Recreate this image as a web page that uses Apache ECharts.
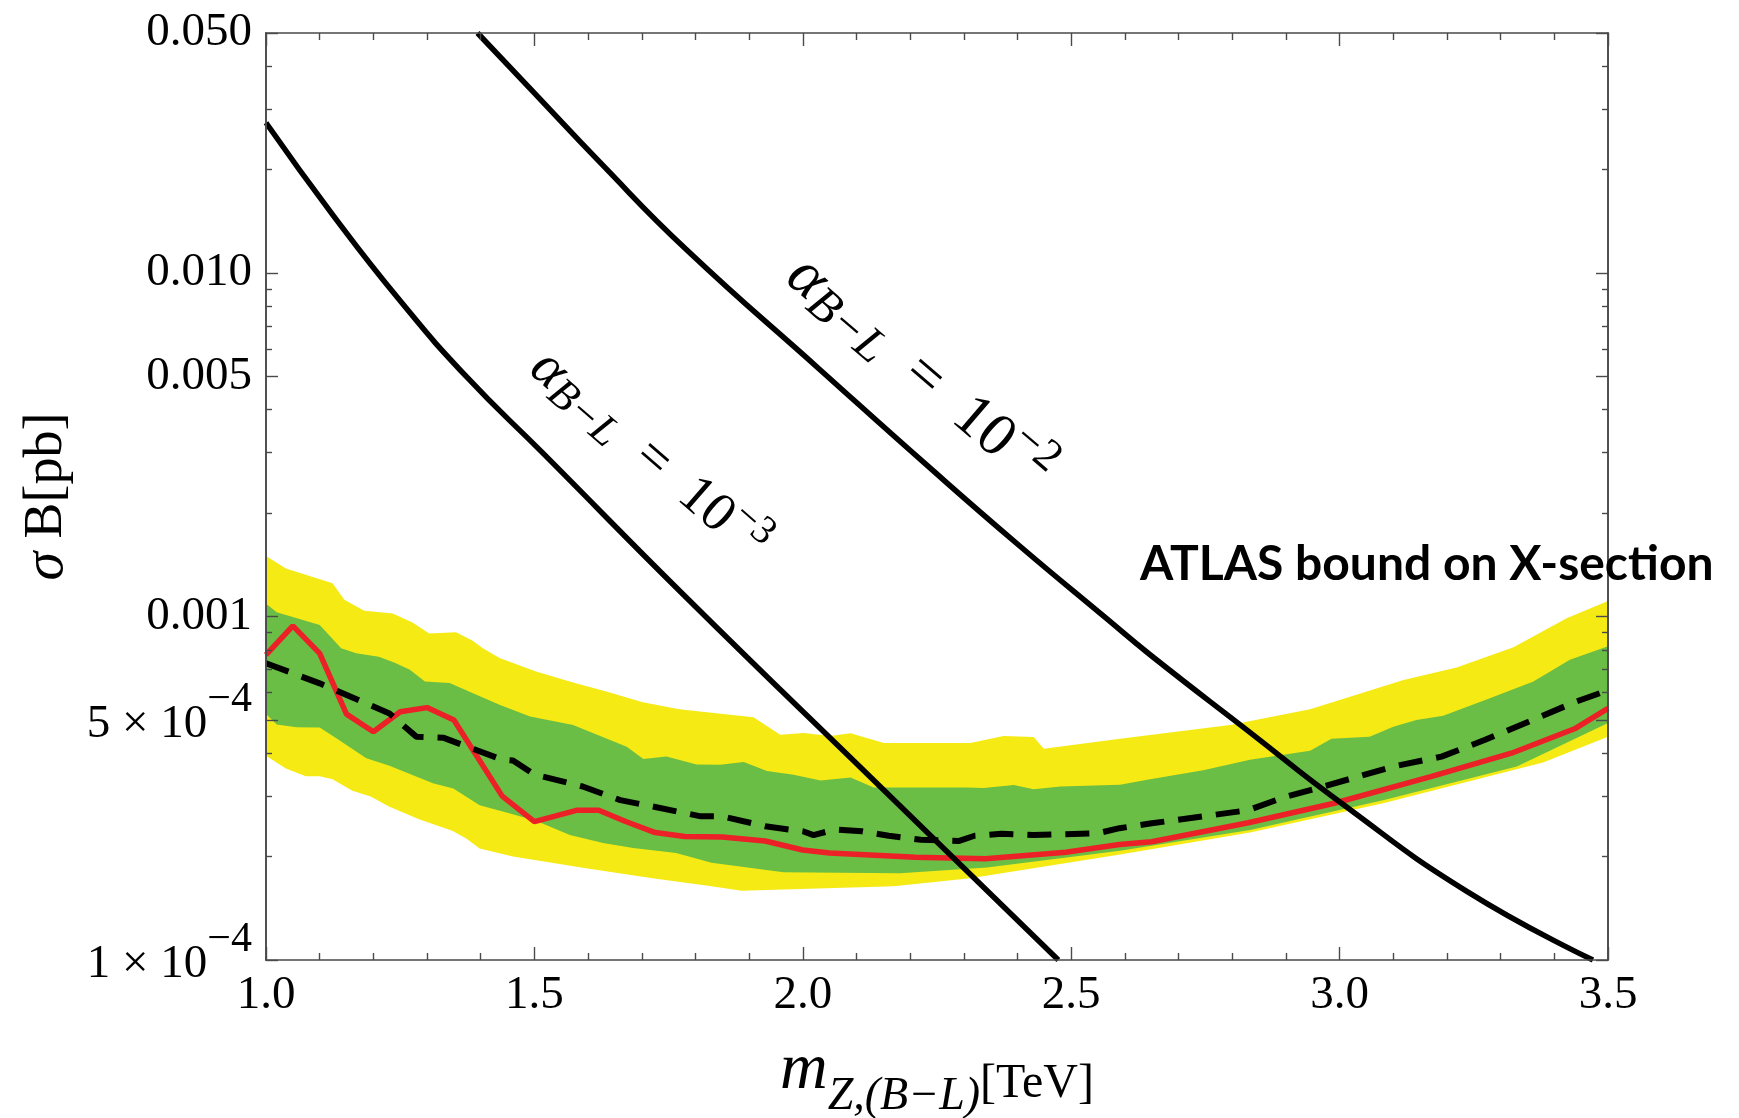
<!DOCTYPE html>
<html>
<head>
<meta charset="utf-8">
<script src="https://cdn.jsdelivr.net/npm/echarts@6/dist/echarts.min.js"></script>
<style>
  html, body { margin: 0; padding: 0; background: #ffffff; }
  #chart { width: 1739px; height: 1118px; }
</style>
</head>
<body>
<div id="chart"></div>
<script>
// ---- axes -------------------------------------------------------------
const xMin = 1.0, xMax = 3.5, xStep = 0.5;          // m_Z' in TeV
const yMin = 1e-4, yMax = 0.05;                      // sigma*B in pb
const yMajorTicks  = [1e-4, 5e-4, 0.001, 0.005, 0.01, 0.05];
const yMajorLabels = ['{n|1 × 10}{e|−4}', '{n|5 × 10}{e|−4}', '0.001', '0.005', '0.010', '0.050'];
const yMinorTicks  = [2e-4, 3e-4, 4e-4, 6e-4, 7e-4, 8e-4, 9e-4,
                      0.002, 0.003, 0.004, 0.006, 0.007, 0.008, 0.009,
                      0.02, 0.03, 0.04];

// ---- ATLAS limit: observed, expected and the 1/2 sigma bands -----------
const observed = [
  [1.00, 7.73e-4], [1.05, 9.39e-4], [1.10, 7.81e-4], [1.15, 5.20e-4], [1.20, 4.62e-4],
  [1.25, 5.28e-4], [1.30, 5.43e-4], [1.35, 5.00e-4], [1.44, 3.00e-4], [1.50, 2.53e-4],
  [1.58, 2.73e-4], [1.62, 2.73e-4], [1.67, 2.53e-4], [1.725, 2.35e-4], [1.78, 2.29e-4],
  [1.85, 2.28e-4], [1.93, 2.22e-4], [2.00, 2.09e-4], [2.05, 2.05e-4], [2.21, 1.99e-4],
  [2.34, 1.97e-4], [2.49, 2.06e-4], [2.59, 2.17e-4], [2.65, 2.21e-4], [2.83, 2.51e-4],
  [2.99, 2.86e-4], [3.17, 3.42e-4], [3.32, 4.00e-4], [3.44, 4.73e-4], [3.50, 5.40e-4]
];
const expected = [
  [1.00, 7.31e-4], [1.10, 6.39e-4], [1.23, 5.22e-4], [1.28, 4.47e-4], [1.33, 4.44e-4],
  [1.44, 3.83e-4], [1.46, 3.81e-4], [1.50, 3.47e-4], [1.59, 3.20e-4], [1.66, 2.92e-4],
  [1.72, 2.80e-4], [1.81, 2.62e-4], [1.85, 2.62e-4], [1.93, 2.45e-4], [2.00, 2.37e-4],
  [2.02, 2.31e-4], [2.06, 2.40e-4], [2.11, 2.37e-4], [2.16, 2.30e-4], [2.22, 2.24e-4],
  [2.29, 2.22e-4], [2.32, 2.30e-4], [2.37, 2.33e-4], [2.43, 2.31e-4], [2.55, 2.34e-4],
  [2.59, 2.42e-4], [2.65, 2.50e-4], [2.83, 2.73e-4], [2.90, 2.99e-4], [2.97, 3.20e-4],
  [3.10, 3.66e-4], [3.19, 3.91e-4], [3.27, 4.37e-4], [3.36, 5.00e-4], [3.44, 5.65e-4],
  [3.50, 6.10e-4]
];
const sigma1Upper = [
  [1.00, 1.09e-3], [1.02, 1.03e-3], [1.10, 9.45e-4], [1.14, 8.09e-4], [1.168, 7.82e-4],
  [1.21, 7.64e-4], [1.24, 7.34e-4], [1.268, 7.00e-4], [1.296, 6.47e-4], [1.342, 6.40e-4],
  [1.392, 5.92e-4], [1.436, 5.53e-4], [1.492, 5.12e-4], [1.572, 4.83e-4], [1.641, 4.37e-4],
  [1.672, 4.18e-4], [1.703, 3.85e-4], [1.746, 3.91e-4], [1.802, 3.71e-4], [1.846, 3.70e-4],
  [1.89, 3.77e-4], [1.933, 3.55e-4], [1.983, 3.46e-4], [2.033, 3.33e-4], [2.089, 3.40e-4],
  [2.132, 3.18e-4], [2.306, 3.18e-4], [2.337, 3.17e-4], [2.393, 3.23e-4], [2.43, 3.14e-4],
  [2.48, 3.20e-4], [2.591, 3.24e-4], [2.647, 3.36e-4], [2.746, 3.57e-4], [2.833, 3.83e-4],
  [2.945, 4.07e-4], [2.985, 4.41e-4], [3.056, 4.47e-4], [3.10, 4.78e-4], [3.143, 5.00e-4],
  [3.193, 5.14e-4], [3.28, 5.78e-4], [3.361, 6.47e-4], [3.429, 7.48e-4], [3.50, 8.20e-4]
];
const sigma1Lower = [
  [1.00, 5.20e-4], [1.02, 4.85e-4], [1.057, 4.76e-4], [1.10, 4.75e-4], [1.131, 4.42e-4],
  [1.187, 3.87e-4], [1.23, 3.68e-4], [1.311, 3.27e-4], [1.349, 3.16e-4], [1.398, 2.82e-4],
  [1.448, 2.69e-4], [1.504, 2.54e-4], [1.566, 2.31e-4], [1.628, 2.19e-4], [1.684, 2.12e-4],
  [1.764, 2.05e-4], [1.83, 1.92e-4], [1.964, 1.80e-4], [2.181, 1.79e-4], [2.343, 1.86e-4],
  [2.591, 2.08e-4], [2.833, 2.39e-4], [3.081, 2.92e-4], [3.33, 3.66e-4], [3.50, 4.90e-4]
];
const sigma2Upper = [
  [1.00, 1.50e-3], [1.037, 1.38e-3], [1.124, 1.25e-3], [1.146, 1.12e-3], [1.183, 1.04e-3],
  [1.236, 1.02e-3], [1.273, 9.60e-4], [1.304, 8.93e-4], [1.354, 9.00e-4], [1.385, 8.50e-4],
  [1.404, 8.09e-4], [1.435, 7.57e-4], [1.503, 6.92e-4], [1.572, 6.43e-4], [1.634, 6.05e-4],
  [1.702, 5.63e-4], [1.77, 5.37e-4], [1.83, 5.25e-4], [1.908, 5.09e-4], [1.958, 4.53e-4],
  [2.002, 4.58e-4], [2.051, 4.49e-4], [2.089, 4.57e-4], [2.151, 4.28e-4], [2.312, 4.28e-4],
  [2.374, 4.49e-4], [2.43, 4.46e-4], [2.449, 4.12e-4], [2.591, 4.41e-4], [2.647, 4.52e-4],
  [2.796, 4.83e-4], [2.945, 5.37e-4], [3.119, 6.53e-4], [3.218, 7.10e-4], [3.324, 8.14e-4],
  [3.423, 9.89e-4], [3.50, 1.11e-3]
];
const sigma2Lower = [
  [1.00, 3.93e-4], [1.037, 3.61e-4], [1.074, 3.43e-4], [1.10, 3.43e-4], [1.124, 3.36e-4],
  [1.161, 3.11e-4], [1.195, 2.99e-4], [1.229, 2.80e-4], [1.285, 2.57e-4], [1.347, 2.38e-4],
  [1.373, 2.26e-4], [1.398, 2.11e-4], [1.46, 2.00e-4], [1.596, 1.85e-4], [1.72, 1.73e-4],
  [1.83, 1.64e-4], [1.886, 1.59e-4], [2.169, 1.64e-4], [2.312, 1.73e-4], [2.591, 2.03e-4],
  [2.833, 2.35e-4], [3.081, 2.86e-4], [3.379, 3.76e-4], [3.50, 4.47e-4]
];

// ---- Z'_(B-L) production cross sections for two gauge couplings -------
const alphaE3 = [
  [1.00, 2.74e-2], [1.124, 1.48e-2], [1.248, 8.37e-3], [1.373, 5.00e-3], [1.515, 3.00e-3],
  [1.782, 1.14e-3], [2.144, 3.20e-4], [2.476, 1.00e-4]
];
const alphaE2 = [
  [1.394, 5.00e-2], [1.497, 3.38e-2], [1.621, 2.11e-2], [1.782, 1.175e-2], [2.031, 5.25e-3],
  [2.239, 2.69e-3], [2.403, 1.61e-3], [2.565, 9.89e-4], [2.647, 7.74e-4], [2.833, 4.60e-4],
  [3.001, 2.88e-4], [3.237, 1.585e-4], [3.472, 1.00e-4]
];

// ---- style ------------------------------------------------------------
const serif = '"Liberation Serif", "Times New Roman", serif';
const frameColor = '#4a4a4a';
const yellow = '#F5EA14';
const green = '#6ABD45';
const red = '#EC2027';

function majorIndex(v) {
  for (let i = 0; i < yMajorTicks.length; i++) {
    if (Math.abs(Math.log10(v) - Math.log10(yMajorTicks[i])) < 1e-6) return i;
  }
  return -1;
}

function yAxisFrame(position, ticks, tickLen, withLabels) {
  const axis = {
    type: 'log', logBase: 10, min: yMin, max: yMax, position: position, z: 10,
    axisLine: { show: true, onZero: false, lineStyle: { color: frameColor, width: 1.6 } },
    axisTick: { show: true, inside: true, length: tickLen, customValues: ticks,
                lineStyle: { color: frameColor, width: 1.4 } },
    splitLine: { show: false },
    minorTick: { show: false },
    axisLabel: { show: false }
  };
  if (withLabels) {
    axis.axisLabel = {
      show: true, customValues: yMajorTicks, margin: 14,
      fontFamily: serif, fontSize: 47, color: '#000',
      formatter: v => { const i = majorIndex(v); return i >= 0 ? yMajorLabels[i] : ''; },
      rich: {
        // mantissa sits on the tick, the exponent is lifted above it
        n: { fontFamily: serif, fontSize: 47, color: '#000', verticalAlign: 'top',
             lineHeight: 90, padding: [26, 0, 0, 0] },
        e: { fontFamily: serif, fontSize: 42, color: '#000', verticalAlign: 'top',
             lineHeight: 90, padding: [4, 0, 0, 0] }
      }
    };
    axis.name = '{i|σ}{u| B[pb]}';
    axis.nameLocation = 'middle';
    axis.nameRotate = 90;
    axis.nameGap = 190;
    axis.nameTextStyle = {
      rich: {
        i: { fontFamily: serif, fontStyle: 'italic', fontSize: 58, color: '#000' },
        u: { fontFamily: serif, fontSize: 54, color: '#000' }
      }
    };
  }
  return axis;
}

function xAxisFrame(position, withLabels) {
  const axis = {
    type: 'value', min: xMin, max: xMax, interval: xStep, position: position, z: 10,
    axisLine: { show: true, onZero: false, lineStyle: { color: frameColor, width: 1.6 } },
    axisTick: { show: true, inside: true, length: 13, lineStyle: { color: frameColor, width: 1.4 } },
    minorTick: { show: true, splitNumber: 5, length: 7, lineStyle: { color: frameColor, width: 1.4 } },
    splitLine: { show: false },
    axisLabel: { show: false }
  };
  if (withLabels) {
    axis.axisLabel = {
      show: true, margin: 12, fontFamily: serif, fontSize: 47, color: '#000',
      formatter: v => v.toFixed(1)
    };
    axis.name = '{m|m}{s|Z,(B−L)}{u|[TeV]}';
    axis.nameLocation = 'middle';
    axis.nameGap = 78;
    axis.nameTextStyle = {
      rich: {
        m: { fontFamily: serif, fontStyle: 'italic', fontSize: 66, color: '#000',
             verticalAlign: 'top', lineHeight: 70 },
        s: { fontFamily: serif, fontStyle: 'italic', fontSize: 46, color: '#000',
             verticalAlign: 'top', lineHeight: 46, padding: [36, 0, 0, 0] },
        u: { fontFamily: serif, fontSize: 48, color: '#000',
             verticalAlign: 'top', lineHeight: 54, padding: [22, 0, 0, 0] }
      }
    };
  }
  return axis;
}

// filled band between an upper and a lower boundary, mapped through the axes
function band(name, upper, lower, color) {
  return {
    type: 'custom', name: name, xAxisIndex: 0, yAxisIndex: 0,
    data: upper, silent: true, clip: true, z: 1,
    renderItem: (params, api) => {
      if (params.dataIndex !== 0) return null;
      const pts = upper.map(p => api.coord(p))
        .concat(lower.slice().reverse().map(p => api.coord(p)));
      return { type: 'polygon', shape: { points: pts }, style: { fill: color } };
    }
  };
}

function curve(name, data, style, z, smooth) {
  return {
    type: 'line', name: name, data: data, xAxisIndex: 0, yAxisIndex: 0,
    showSymbol: false, symbol: 'none', silent: true, clip: true, z: z,
    smooth: smooth || false,
    lineStyle: style
  };
}

// rotated "alpha_(B-L) = 10^k" annotation; k is the exponent text
function curveLabel(x, y, angleDeg, exponent, k) {
  const f = v => Math.round(v * k);
  return {
    type: 'text', x: x, y: y, rotation: -angleDeg * Math.PI / 180, z: 20,
    style: {
      text: '{a|α}{s|B−L}{r|  =  10}{p|' + exponent + '}',
      align: 'center', verticalAlign: 'middle',
      rich: {
        a: { fontFamily: serif, fontStyle: 'italic', fontSize: f(66), color: '#222',
             verticalAlign: 'top', lineHeight: f(100), padding: [f(18), 0, 0, 0] },
        s: { fontFamily: serif, fontStyle: 'italic', fontSize: f(50), color: '#222',
             verticalAlign: 'top', lineHeight: f(100), padding: [f(38), 0, 0, 0] },
        r: { fontFamily: serif, fontSize: f(64), color: '#222',
             verticalAlign: 'top', lineHeight: f(100), padding: [f(18), 0, 0, 0] },
        p: { fontFamily: serif, fontSize: f(47), color: '#222',
             verticalAlign: 'top', lineHeight: f(100), padding: [f(6), 0, 0, 0] }
      }
    }
  };
}

const chart = echarts.init(document.getElementById('chart'), null, { renderer: 'canvas' });
chart.setOption({
  animation: false,
  backgroundColor: '#ffffff',
  grid: { left: 266, right: 131, top: 33, bottom: 158, containLabel: false, outerBoundsMode: 'none' },
  xAxis: [xAxisFrame('bottom', true), xAxisFrame('top', false)],
  yAxis: [
    yAxisFrame('left', yMajorTicks, 12, true),
    yAxisFrame('left', yMinorTicks, 6, false),
    yAxisFrame('right', yMajorTicks, 12, false),
    yAxisFrame('right', yMinorTicks, 6, false)
  ],
  series: [
    band('2 sigma', sigma2Upper, sigma2Lower, yellow),
    band('1 sigma', sigma1Upper, sigma1Lower, green),
    curve('observed', observed, { color: red, width: 5.5 }, 3),
    curve('expected', expected, { color: '#000', width: 6, type: [24, 14] }, 4),
    curve('alpha 1e-3', alphaE3, { color: '#000', width: 5.5 }, 5, 0.5),
    curve('alpha 1e-2', alphaE2, { color: '#000', width: 5.5 }, 5, 0.5)
  ],
  graphic: [
    curveLabel(648, 456, 41, '−3', 0.86),
    curveLabel(919, 373, 40.5, '−2', 0.95),
    {
      type: 'text', left: 1140, top: 541, z: 20,
      style: {
        text: 'ATLAS bound on X-section',
        fontFamily: 'Lato, "Open Sans", sans-serif', fontWeight: 'bold',
        fontSize: 48, fill: '#000'
      }
    }
  ]
});
</script>
</body>
</html>
